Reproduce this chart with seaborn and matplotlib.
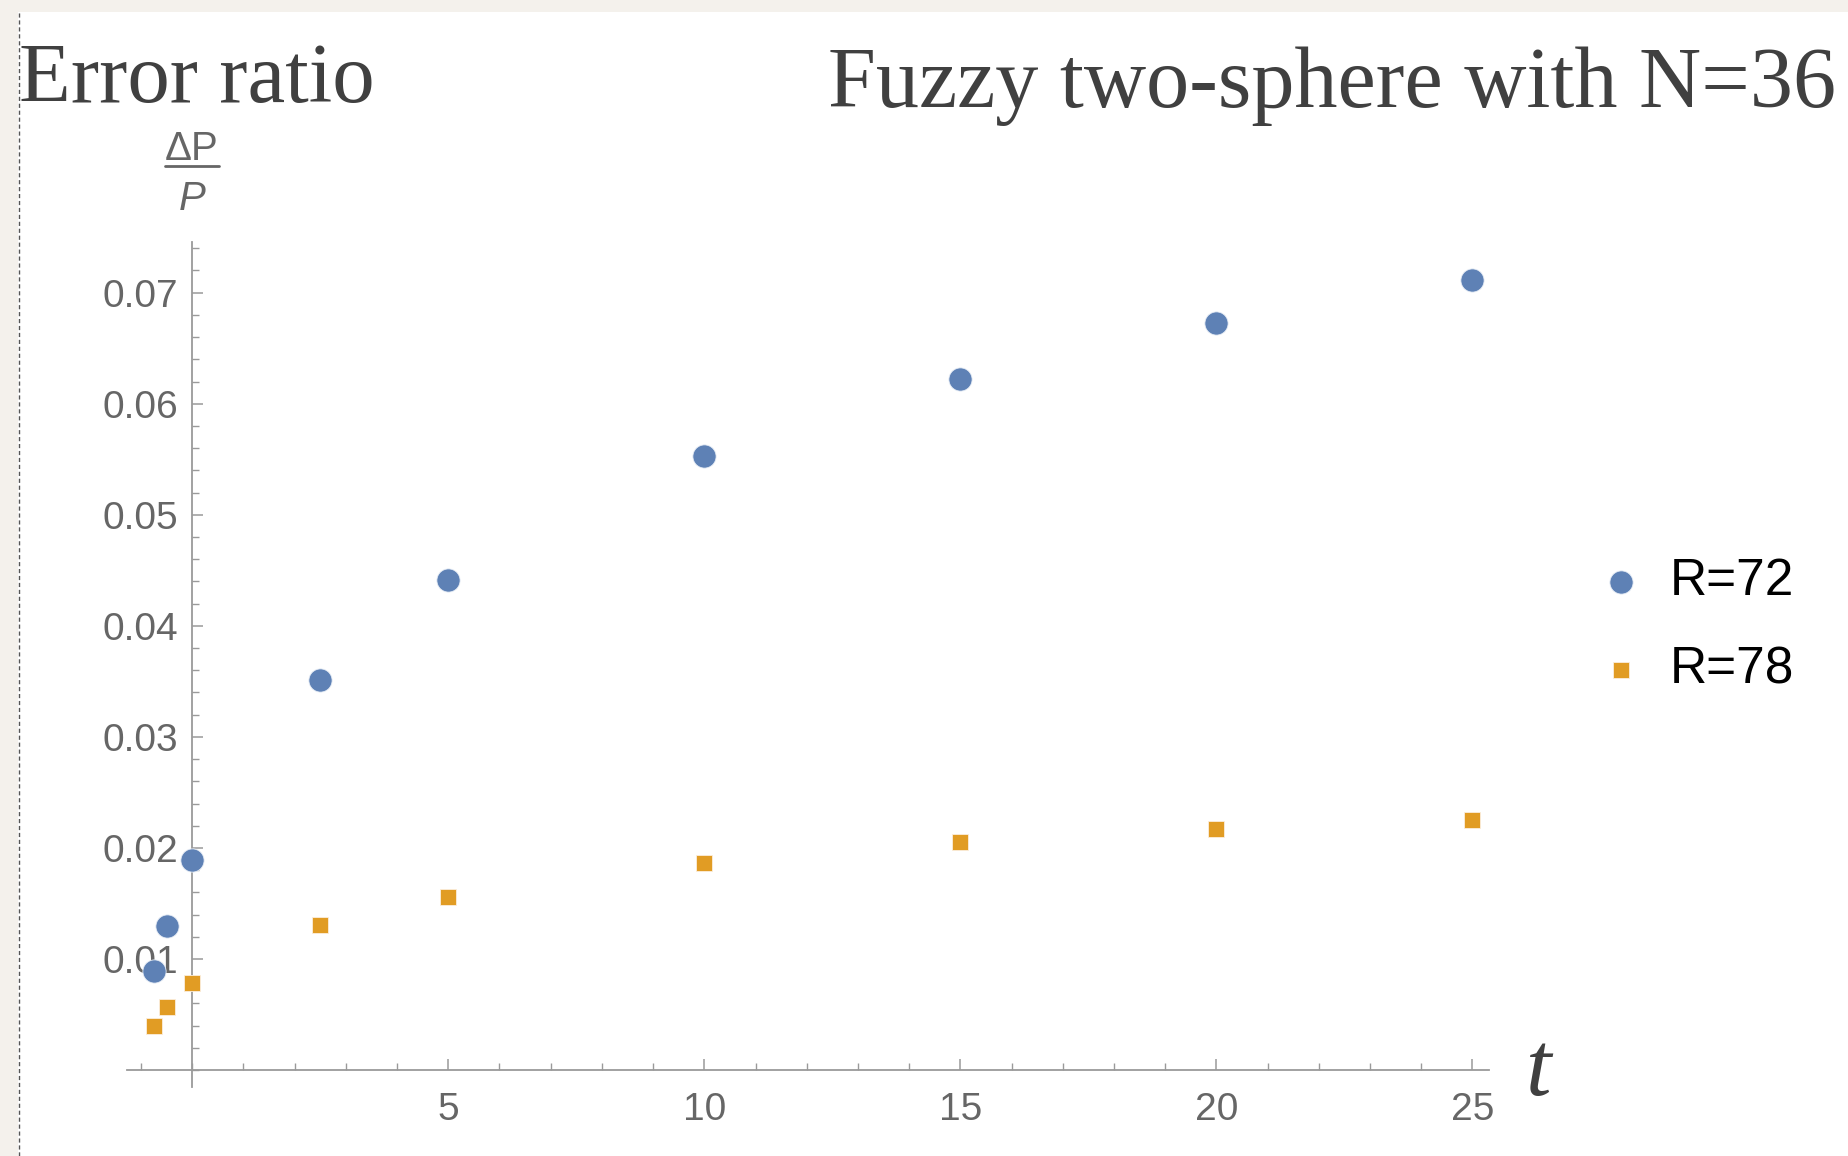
import matplotlib
matplotlib.use("Agg")
import matplotlib.pyplot as plt
import seaborn as sns
import pandas as pd
import numpy as np
from matplotlib.patches import Rectangle
from matplotlib.lines import Line2D
from matplotlib.ticker import MultipleLocator, FixedLocator

# ---- data ----
t_values = [-0.75, -0.5, 0, 2.5, 5, 10, 15, 20, 25]
r72_values = [0.0089, 0.0130, 0.0189, 0.0351, 0.0441, 0.0553, 0.0622, 0.0673, 0.0711]
r78_values = [0.0040, 0.0057, 0.0078, 0.0131, 0.0156, 0.0186, 0.0205, 0.0217, 0.02255]
series_labels = ["R=72", "R=78"]
x_ticks = [5, 10, 15, 20, 25]
y_ticks = [0.01, 0.02, 0.03, 0.04, 0.05, 0.06, 0.07]
y_tick_labels = ["0.01", "0.02", "0.03", "0.04", "0.05", "0.06", "0.07"]

df = pd.DataFrame({
    "t": t_values * 2,
    "ratio": r72_values + r78_values,
    "series": [series_labels[0]] * len(t_values) + [series_labels[1]] * len(t_values),
})

W, H = 1848, 1156
sns.set_theme(style="white")
plt.rcParams["font.family"] = ["Liberation Sans", "DejaVu Sans"]

fig = plt.figure(figsize=(W / 100, H / 100), dpi=100)
fig.patch.set_facecolor("#f4f1ec")

def fx(x):
    return x / W

def fy(y):
    return 1 - y / H

# white page panel
fig.patches.append(Rectangle((fx(18), 0), 1 - fx(18), fy(12), transform=fig.transFigure,
                             facecolor="white", edgecolor="none", zorder=-5))
fig.lines.append(Line2D([fx(18.5), fx(18.5)], [0, fy(12)], transform=fig.transFigure,
                        color="#555555", lw=1.0, ls=(0, (3, 2)), zorder=-4))

ax_left, ax_right = 126.7, 1489.3
ax_top, ax_bottom = 241.6, 1086.7
ax = fig.add_axes([fx(ax_left), fy(ax_bottom), fx(ax_right) - fx(ax_left), fy(ax_top) - fy(ax_bottom)])
ax.set_facecolor("none")
ax.set_zorder(2)

blue = "#5e81b5"
orange = "#e19c24"
sub72 = df[df["series"] == series_labels[0]]
sub78 = df[df["series"] == series_labels[1]]
sns.scatterplot(data=sub72, x="t", y="ratio", ax=ax, color=blue, marker="o", s=280,
                edgecolor="#e8eef6", linewidth=0.6, label=series_labels[0], zorder=3, clip_on=False)
sns.scatterplot(data=sub78, x="t", y="ratio", ax=ax, color=orange, marker="s", s=120,
                edgecolor="#fbeedd", linewidth=0.6, label=series_labels[1], zorder=3, clip_on=False)

ax.set_xlim(-1.28, 25.33)
ax.set_ylim(-0.0015, 0.0746)

for side in ["top", "right"]:
    ax.spines[side].set_visible(False)
axis_col = "#9a9a9a"
ax.spines["left"].set_position(("data", 0))
ax.spines["bottom"].set_position(("data", 0))
for side in ["left", "bottom"]:
    ax.spines[side].set_color(axis_col)
    ax.spines[side].set_linewidth(1.3)

ax.xaxis.set_major_locator(FixedLocator(x_ticks))
ax.xaxis.set_minor_locator(MultipleLocator(1))
ax.yaxis.set_major_locator(FixedLocator(y_ticks))
ax.yaxis.set_minor_locator(MultipleLocator(0.002))
ax.set_xticklabels([str(v) for v in x_ticks])
ax.set_yticklabels(y_tick_labels)

ax.tick_params(axis="both", which="major", direction="in", length=8, width=1.1, color=axis_col,
               labelsize=28, labelcolor="#666666")
ax.tick_params(axis="both", which="minor", direction="in", length=5, width=1.0, color=axis_col)
ax.tick_params(axis="x", which="major", pad=16)
ax.tick_params(axis="y", which="major", pad=10)
ax.tick_params(left=True, bottom=True, which="both")
ax.set_xlabel("")
ax.set_ylabel("")

# legend
leg = ax.legend(loc="center left", bbox_to_anchor=(fx(1595), fy(626)), bbox_transform=fig.transFigure,
                frameon=False, fontsize=37, handlelength=1.0, handletextpad=0.46, labelspacing=0.77,
                borderaxespad=0, borderpad=0)
for txt in leg.get_texts():
    txt.set_color("black")

# titles
serif = ["Liberation Serif", "DejaVu Serif"]
fig.text(fx(19), fy(102), "Error ratio", family=serif, fontsize=61, color="#404040",
         ha="left", va="baseline")
fig.text(fx(1836), fy(107), "Fuzzy two-sphere with N=36", family=serif, fontsize=62, color="#404040",
         ha="right", va="baseline")

# y label ΔP / P
fig.text(fx(192), fy(160), "ΔP", fontsize=29, color="#666666", ha="center", va="baseline")
fig.lines.append(Line2D([fx(165), fx(219)], [fy(166), fy(166)], transform=fig.transFigure,
                        color="#666666", lw=2.0))
fig.text(fx(192), fy(210), "P", fontsize=29, color="#666666", ha="center", va="baseline", style="italic")

# x label t
fig.text(fx(1526), fy(1095), "t", family=serif, fontsize=66, color="#404040", style="italic",
         ha="left", va="baseline")

fig.savefig("out.png", dpi=100, facecolor=fig.get_facecolor())
